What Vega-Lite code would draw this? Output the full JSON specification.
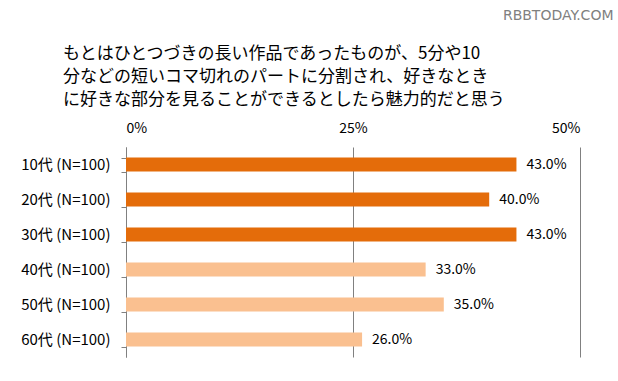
{
  "$schema": "https://vega.github.io/schema/vega-lite/v6.json",
  "width": 454,
  "height": 210,
  "autosize": {"type": "none"},
  "padding": {"left": 126, "top": 147, "right": 38, "bottom": 24},
  "background": "white",
  "title": {
    "text": ["もとはひとつづきの長い作品であったものが、5分や10", "分などの短いコマ切れのパートに分割され、好きなとき", "に好きな部分を見ることができるとしたら魅力的だと思う"],
    "anchor": "start",
    "frame": "group",
    "dx": -63,
    "offset": -101,
    "font": "Noto Sans CJK JP",
    "fontSize": 17,
    "fontWeight": "normal",
    "lineHeight": 23,
    "color": "#000000"
  },
  "data": {
    "values": [
      {"age": "10代 (N=100)", "value": 0.43},
      {"age": "20代 (N=100)", "value": 0.40},
      {"age": "30代 (N=100)", "value": 0.43},
      {"age": "40代 (N=100)", "value": 0.33},
      {"age": "50代 (N=100)", "value": 0.35},
      {"age": "60代 (N=100)", "value": 0.26}
    ]
  },
  "encoding": {
    "y": {
      "field": "age",
      "type": "nominal",
      "sort": null,
      "scale": {"paddingInner": 0.6, "paddingOuter": 0.3},
      "axis": {
        "title": null,
        "tickBand": "extent",
        "tickColor": "#808080",
        "tickSize": 5,
        "domainColor": "#808080",
        "labelFont": "Noto Sans CJK JP",
        "labelFontSize": 15,
        "labelColor": "#000000",
        "labelPadding": 11
      }
    },
    "x": {
      "field": "value",
      "type": "quantitative",
      "scale": {"domain": [0, 0.5]},
      "axis": {
        "orient": "top",
        "values": [0, 0.25, 0.5],
        "format": ".0%",
        "ticks": false,
        "domain": false,
        "grid": true,
        "gridColor": "#808080",
        "labelFont": "Noto Sans CJK JP",
        "labelFontSize": 14,
        "labelColor": "#000000",
        "labelPadding": 12,
        "title": "RBBTODAY.COM",
        "titleFont": "DejaVu Sans",
        "titleFontWeight": "normal",
        "titleFontSize": 14,
        "titleColor": "#808080",
        "titleAnchor": "end",
        "titleAlign": "right",
        "titleBaseline": "middle",
        "titleX": 487,
        "titleY": -132
      }
    }
  },
  "layer": [
    {
      "mark": {"type": "bar"},
      "encoding": {
        "color": {
          "field": "age",
          "type": "nominal",
          "scale": {
            "domain": ["10代 (N=100)", "20代 (N=100)", "30代 (N=100)", "40代 (N=100)", "50代 (N=100)", "60代 (N=100)"],
            "range": ["#E46C0A", "#E46C0A", "#E46C0A", "#FAC090", "#FAC090", "#FAC090"]
          },
          "legend": null
        }
      }
    },
    {
      "mark": {"type": "text", "align": "left", "dx": 10, "font": "Noto Sans CJK JP", "fontSize": 14, "color": "#000000"},
      "encoding": {
        "text": {"field": "value", "type": "quantitative", "format": ".1%"}
      }
    }
  ],
  "config": {"view": {"stroke": null}}
}
